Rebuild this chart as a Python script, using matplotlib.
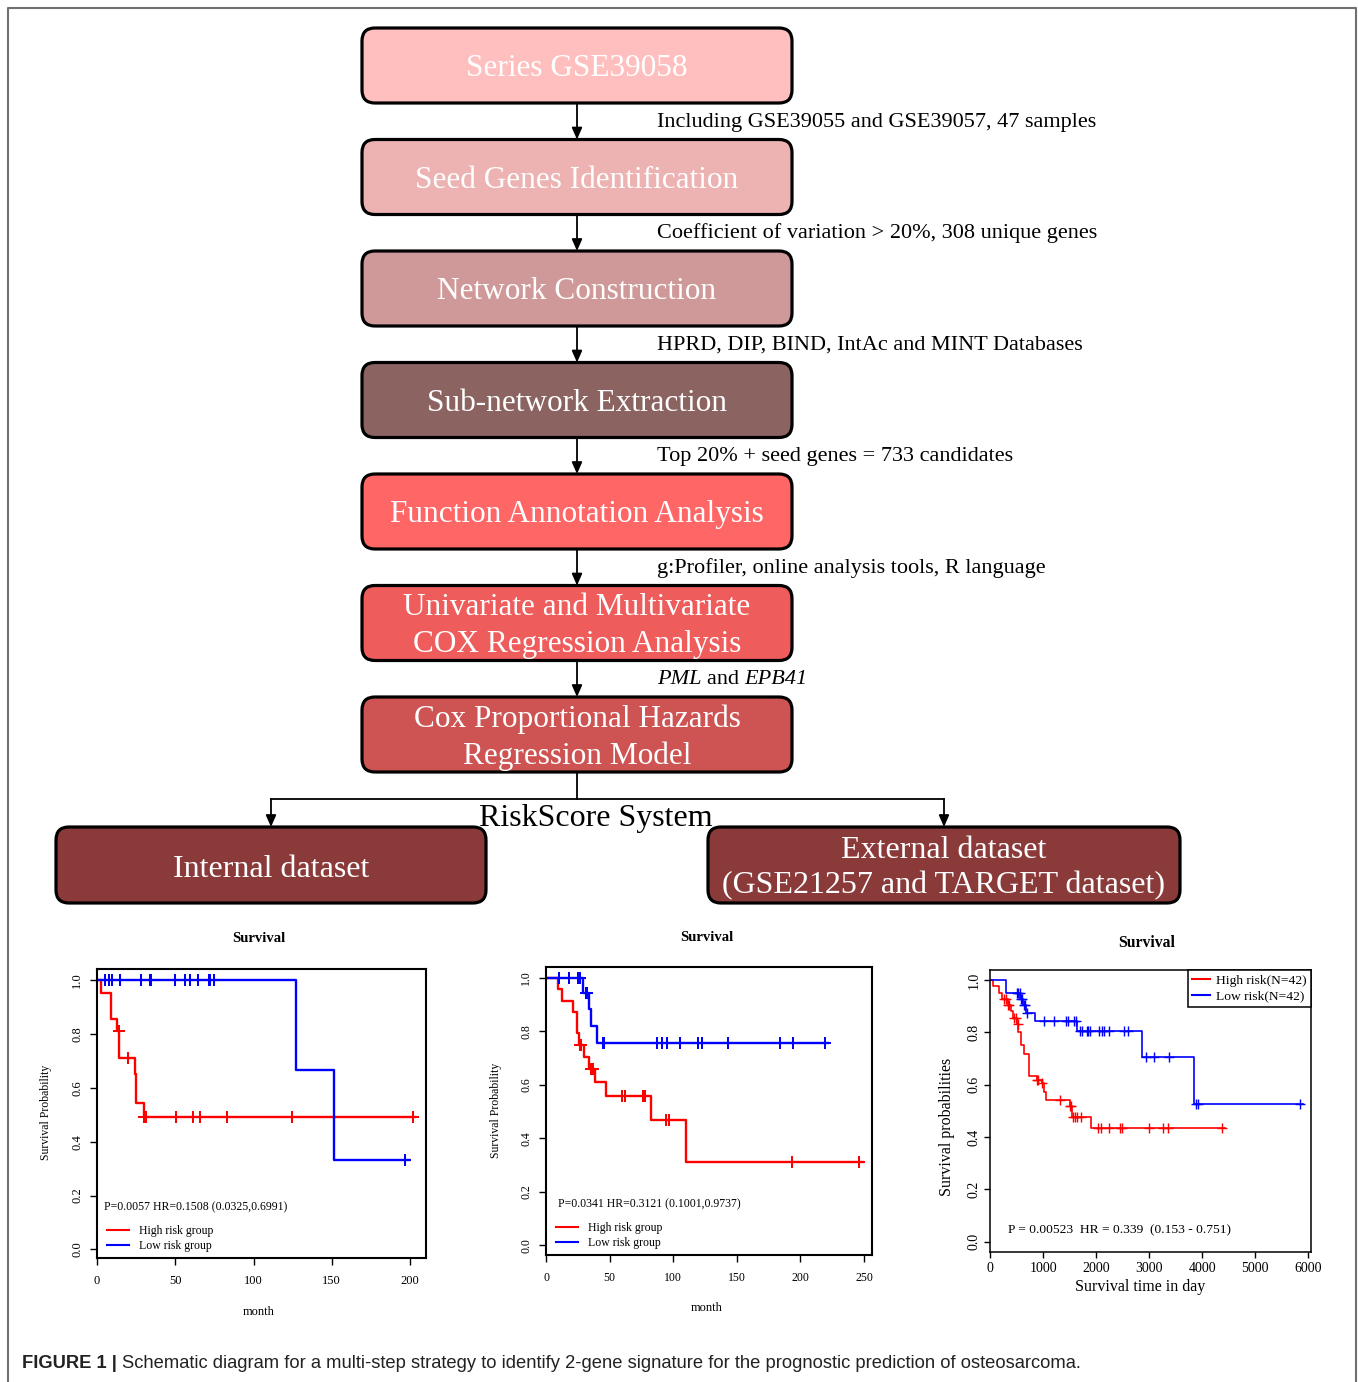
import numpy as np
import matplotlib
matplotlib.use('Agg')
import matplotlib.pyplot as plt
from matplotlib.patches import FancyBboxPatch, FancyArrowPatch

plt.rcParams['font.family'] = 'Liberation Serif'

# ---- flowchart text ----
steps = ['Series GSE39058', 'Seed Genes Identification', 'Network Construction',
         'Sub-network Extraction', 'Function Annotation Analysis',
         'Univariate and Multivariate\nCOX Regression Analysis',
         'Cox Proportional Hazards\nRegression Model']
notes = ['Including GSE39055 and GSE39057, 47 samples',
         'Coefficient of variation > 20%, 308 unique genes',
         'HPRD, DIP, BIND, IntAc and MINT Databases',
         'Top 20% + seed genes = 733 candidates',
         'g:Profiler, online analysis tools, R language',
         'PML and EPB41']
gene_names = ['PML', 'EPB41']
branch_label = 'RiskScore System'
datasets = ['Internal dataset', 'External dataset\n(GSE21257 and TARGET dataset)']
caption_head = 'FIGURE 1 |'
caption_body = ('Schematic diagram for a multi-step strategy to identify 2-gene signature '
                'for the prognostic prediction of osteosarcoma.')

# ---- KM curves: event times, survival after each step, last follow-up, censor times ----
# internal dataset (months)
km1_high_t = [0, 2.5, 8.9, 12.7, 14.0, 24.4, 25.1, 29.8]
km1_high_s = [1.0, 0.952, 0.857, 0.810, 0.710, 0.652, 0.545, 0.490]
km1_high_end = 203
km1_high_cens = [13.8, 19.6, 30.0, 31.1, 50.4, 61.5, 66.0, 82.8, 124.7, 202.0]
km1_low_t = [0, 127.0, 151.3]
km1_low_s = [1.0, 0.667, 0.333]
km1_low_end = 199.4
km1_low_cens = [5.3, 7.4, 9.3, 14.4, 28.3, 34.0, 34.7, 50.0, 56.0, 59.4, 64.7,
                71.3, 72.1, 74.7, 197.0]

# GSE21257 (months)
km2_high_t = [0, 9.7, 12.6, 21.0, 24.1, 25.9, 29.6, 33.5, 38.5, 46.9, 82.5, 109.8]
km2_high_s = [1.0, 0.959, 0.915, 0.874, 0.793, 0.749, 0.705, 0.660, 0.609, 0.559, 0.468, 0.311]
km2_high_end = 249.5
km2_high_cens = [26.7, 27.8, 35.1, 36.7, 59.5, 62.1, 76.5, 77.8, 94.3, 96.5, 193.4, 246.3]
km2_low_t = [0, 28.8, 33.5, 35.1, 39.8]
km2_low_s = [1.0, 0.945, 0.883, 0.821, 0.755]
km2_low_end = 222
km2_low_cens = [10.5, 17.8, 25.2, 26.0, 26.7, 31.4, 32.5, 44.5, 45.6, 87.0, 91.2, 94.9,
                105.3, 119.7, 122.6, 143.3, 184.2, 194.2, 219.6]

# TARGET (days)
km3_high_t = [0, 63, 176, 220, 333, 390, 427, 503, 534, 584, 647, 741, 880, 987,
              1024, 1056, 1508, 1540, 1552, 1904]
km3_high_s = [1.0, 0.976, 0.952, 0.928, 0.904, 0.883, 0.856, 0.830, 0.800, 0.752, 0.716,
              0.633, 0.618, 0.605, 0.573, 0.543, 0.518, 0.497, 0.475, 0.433]
km3_high_end = 4426
km3_high_cens = [264, 302, 346, 364, 459, 484, 528, 880, 911, 987, 1320, 1508, 1527, 1558,
                 1602, 1646, 1709, 2042, 2092, 2243, 2457, 2495, 2997, 3268, 3350, 4379]
km3_low_t = [0, 295, 570, 620, 680, 848, 1634, 2871, 3851]
km3_low_s = [1.0, 0.952, 0.929, 0.905, 0.873, 0.843, 0.806, 0.705, 0.527]
km3_low_end = 5905
km3_low_cens = [515, 534, 559, 584, 609, 641, 660, 691, 1024, 1213, 1433, 1464, 1590, 1615,
                1703, 1728, 1835, 1854, 1879, 2061, 2105, 2143, 2243, 2532, 2595, 2947,
                3092, 3368, 3883, 3915, 5844]

stats = ['P=0.0057 HR=0.1508 (0.0325,0.6991)',
         'P=0.0341 HR=0.3121 (0.1001,0.9737)',
         'P = 0.00523  HR = 0.339  (0.153 - 0.751)']

W, H = 1358, 1382
fig = plt.figure(figsize=(W / 100, H / 100), dpi=100)
renderer = fig.canvas.get_renderer()

# overlay in pixel coordinates for the flowchart
ax0 = fig.add_axes([0, 0, 1, 1])
ax0.set_xlim(0, W)
ax0.set_ylim(H, 0)
ax0.axis('off')

# outer frame
ax0.plot([8, 8, 1356, 1356], [H, 8, 8, H], color='#707070', lw=1.5)

box_colors = ['#FFBFBF', '#EDB2B2', '#CF9999', '#8B6462', '#FF6666', '#EE5C5C', '#CE5353']
bx0, bx1, bh = 362, 792, 75
cx = (bx0 + bx1) / 2


def arrow(x, y0, y1):
    ax0.add_patch(FancyArrowPatch((x, y0), (x, y1), arrowstyle='-|>,head_length=0.5,head_width=0.22',
                                  mutation_scale=14, color='black', lw=1.3,
                                  shrinkA=0, shrinkB=0))


def rbox(x0, y0, w, h, color):
    ax0.add_patch(FancyBboxPatch((x0, y0), w, h, boxstyle='round,pad=0,rounding_size=13',
                                 fc=color, ec='black', lw=2.3))


def note(x, y, s):
    words = s.split(' ')
    if not any(w in gene_names for w in words):
        ax0.text(x, y, s, ha='left', va='center', fontsize=16)
        return
    # gene symbols in italic: write word by word
    for w in words:
        t = ax0.text(x, y, w + ' ', ha='left', va='center', fontsize=16,
                     fontstyle='italic' if w in gene_names else 'normal')
        x += t.get_window_extent(renderer).width


for i, label in enumerate(steps):
    top = 28 + i * 111.5
    rbox(bx0, top, bx1 - bx0, bh, box_colors[i])
    ax0.text(cx, top + bh / 2 + 3, label, ha='center', va='center', color='white',
             fontsize=22.5, linespacing=1.32)
    if i < len(notes):
        arrow(cx, top + bh, top + 111.5)
        note(657, top + bh + 19, notes[i])

# branch
y_split = 799
ax0.plot([cx, cx], [28 + 6 * 111.5 + bh, y_split], color='black', lw=1.3)
ax0.plot([271, 944], [y_split, y_split], color='black', lw=1.3)
arrow(271, y_split, 827)
arrow(944, y_split, 827)
ax0.text(596, 818, branch_label, ha='center', va='center', fontsize=23)

rbox(56, 827, 430, 76, '#8B3A3A')
rbox(708, 827, 472, 76, '#8B3A3A')
ax0.text(271, 869, datasets[0], ha='center', va='center', color='white', fontsize=23)
ax0.text(944, 868, datasets[1], ha='center', va='center', color='white', fontsize=23,
         linespacing=1.3)

# caption
head = ax0.text(22, 1364, caption_head, ha='left', va='center', fontsize=13.2,
                fontweight='bold', family='Liberation Sans', color='#222222')
hx = 22 + head.get_window_extent(renderer).width + 5
ax0.text(hx, 1364, caption_body, ha='left', va='center', fontsize=13.2,
         family='Liberation Sans', color='#222222')


def px_axes(left, top, right, bottom):
    return fig.add_axes([left / W, 1 - bottom / H, (right - left) / W, (bottom - top) / H])


def km(ax, t, s, end, cens, color, lw=1.7, ms=8):
    t = np.append(t, end)
    s = np.append(s, s[-1])
    ax.step(t, s, where='post', color=color, lw=lw)
    idx = np.searchsorted(t[:-1], cens, side='right') - 1
    ax.plot(cens, s[idx], ls='none', marker='+', ms=ms, mew=lw * 0.85, color=color)


def style(ax, xmax, xticks, ylo, yhi, tsize, box_lw, xpad, ypad, tlen):
    ax.set_xlim(0, xmax)
    ax.set_ylim(ylo, yhi)
    ax.set_xticks(xticks)
    ax.set_yticks(np.arange(0, 1.01, 0.2))
    ax.set_yticklabels(['%.1f' % v for v in np.arange(0, 1.01, 0.2)], rotation=90, va='center')
    ax.tick_params(axis='x', labelsize=tsize, length=tlen, width=1, pad=xpad)
    ax.tick_params(axis='y', labelsize=tsize, length=tlen, width=1, pad=ypad)
    for sp in ax.spines.values():
        sp.set_linewidth(box_lw)


def group_legend(ax, labels, **kw):
    h = [plt.Line2D([], [], color='#FF0000', lw=1.5), plt.Line2D([], [], color='#0000FF', lw=1.5)]
    return ax.legend(h, labels, **kw)


# plot 1 : internal
ax1 = px_axes(97, 969, 426, 1258)
km(ax1, km1_high_t, km1_high_s, km1_high_end, km1_high_cens, '#FF0000')
km(ax1, km1_low_t, km1_low_s, km1_low_end, km1_low_cens, '#0000FF')
style(ax1, 210.2, range(0, 201, 50), -0.032, 1.041, 9, 1.5, 7, 5, 5)
ax1.text(4.7, 0.156, stats[0], ha='left', va='center', fontsize=8.5)
group_legend(ax1, ['High risk group', 'Low risk group'], loc='lower left',
             bbox_to_anchor=(0.03, 0.02), frameon=False, fontsize=8.5, handlelength=1.9,
             handletextpad=0.85, labelspacing=0.25, borderpad=0, borderaxespad=0)
ax0.text(259, 938, 'Survival', ha='center', va='center', fontsize=10.5, fontweight='bold')
ax0.text(46, 1112, 'Survival Probability', ha='center', va='center', fontsize=8.5, rotation=90)
ax0.text(259, 1312, 'month', ha='center', va='center', fontsize=9)

# plot 2 : GSE21257
ax2 = px_axes(546, 967, 872, 1255)
km(ax2, km2_high_t, km2_high_s, km2_high_end, km2_high_cens, '#FF0000')
km(ax2, km2_low_t, km2_low_s, km2_low_end, km2_low_cens, '#0000FF')
style(ax2, 256.3, range(0, 251, 50), -0.037, 1.041, 8.5, 1.5, 7, 5, 5)
ax2.text(9.7, 0.152, stats[1], ha='left', va='center', fontsize=8.5)
group_legend(ax2, ['High risk group', 'Low risk group'], loc='lower left',
             bbox_to_anchor=(0.03, 0.02), frameon=False, fontsize=8.5, handlelength=1.9,
             handletextpad=0.85, labelspacing=0.25, borderpad=0, borderaxespad=0)
ax0.text(707, 937, 'Survival', ha='center', va='center', fontsize=10.5, fontweight='bold')
ax0.text(496, 1110, 'Survival Probability', ha='center', va='center', fontsize=8.5, rotation=90)
ax0.text(707, 1308, 'month', ha='center', va='center', fontsize=9)

# plot 3 : TARGET
ax3 = px_axes(990, 970, 1311, 1252)
km(ax3, km3_high_t, km3_high_s, km3_high_end, km3_high_cens, '#FF0000', lw=1.2, ms=7)
km(ax3, km3_low_t, km3_low_s, km3_low_end, km3_low_cens, '#0000FF', lw=1.2, ms=7)
style(ax3, 6051, range(0, 6001, 1000), -0.039, 1.038, 10, 1.1, 3, 3, 4)
ax3.text(345, 0.045, stats[2], ha='left', va='center', fontsize=9.7)
leg = group_legend(ax3, ['High risk(N=42)', 'Low risk(N=42)'], loc='upper right',
                   borderaxespad=0, fancybox=False, edgecolor='black', fontsize=9.7,
                   handlelength=1.3, handletextpad=0.45, labelspacing=0.24, borderpad=0.33)
leg.get_frame().set_linewidth(1.1)
leg.get_frame().set_alpha(1)
ax0.text(1147, 943, 'Survival', ha='center', va='center', fontsize=11.3, fontweight='bold')
ax0.text(947, 1127, 'Survival probabilities', ha='center', va='center', fontsize=11.5,
         rotation=90)
ax0.text(1140, 1287, 'Survival time in day', ha='center', va='center', fontsize=11.5)

fig.savefig('out.png', dpi=100)
